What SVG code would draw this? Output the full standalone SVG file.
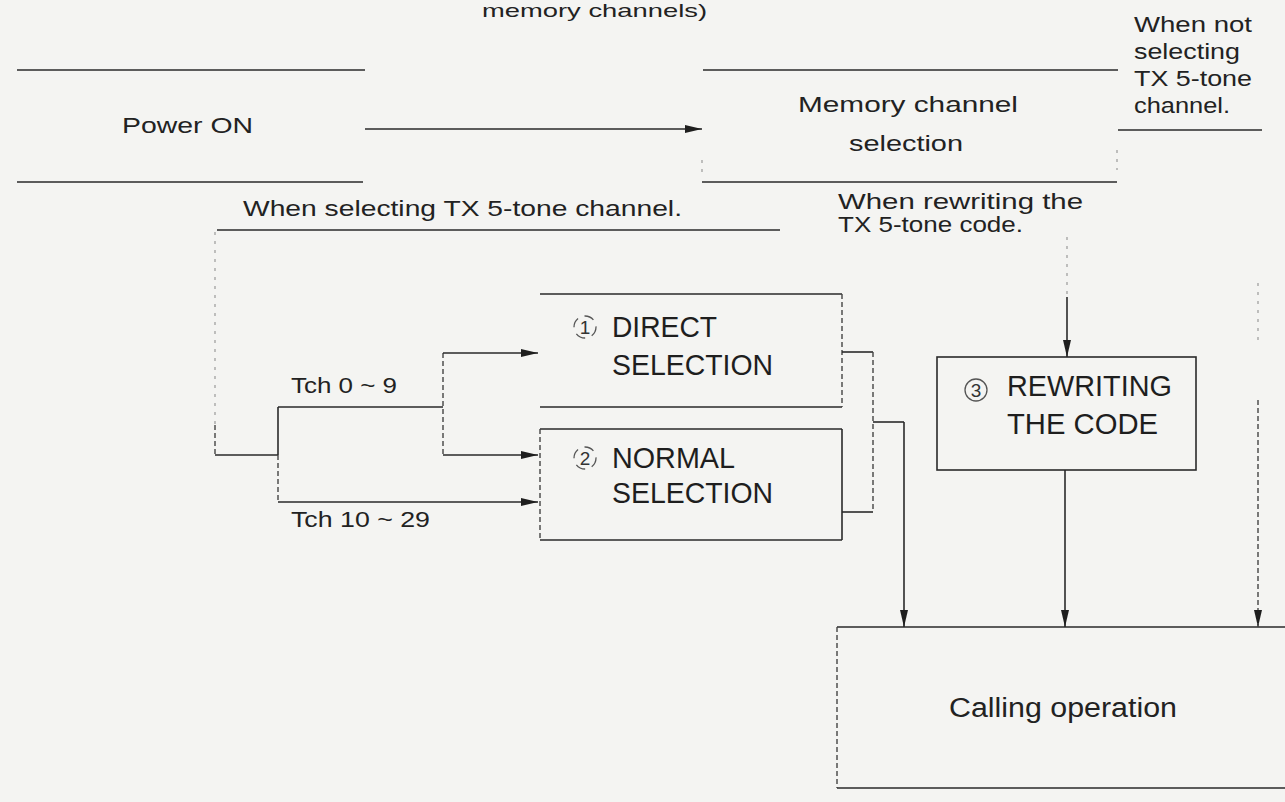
<svg xmlns="http://www.w3.org/2000/svg" width="1285" height="802" viewBox="0 0 1285 802">
<style>
.ln{stroke:#2a2a2a;stroke-width:1.6;fill:none}
.dl{stroke:#444;stroke-width:1.4;fill:none;stroke-dasharray:5 3}
.fd{stroke:#999;stroke-width:1.2;fill:none;stroke-dasharray:3 6}
.lb{font-family:"Liberation Sans",Arial,Helvetica,sans-serif;font-size:22px;fill:#222}
.bg{font-family:"Liberation Sans",Arial,Helvetica,sans-serif;font-size:29px;fill:#1e1e1e}
.cn{font-family:"Liberation Sans",Arial,Helvetica,sans-serif;font-size:19px;fill:#333;text-anchor:middle}
.cc{stroke:#555;stroke-width:1.3;fill:none}
</style>
<defs>
<marker id="ah" markerUnits="userSpaceOnUse" markerWidth="17" markerHeight="8" refX="17" refY="4" orient="auto">
<path d="M0,0 L17,4 L0,8 Z" fill="#1e1e1e"/>
</marker>
</defs>
<rect width="1285" height="802" fill="#f4f4f2"/>

<g id="top-note">
<text class="lb" style="font-size:19px" x="482" y="17" textLength="225" lengthAdjust="spacingAndGlyphs">memory channels)</text>
</g>

<g id="power-on">
<line class="ln" x1="17" y1="70" x2="365" y2="70"/>
<line class="ln" x1="17" y1="182" x2="363" y2="182"/>
<text class="lb" x="122" y="133" textLength="131" lengthAdjust="spacingAndGlyphs">Power ON</text>
</g>

<g id="memory-channel-selection">
<line class="ln" x1="703" y1="70" x2="1118" y2="70"/>
<line class="ln" x1="702" y1="182" x2="1117" y2="182"/>
<line class="fd" x1="702" y1="160" x2="702" y2="176"/>
<line class="fd" x1="1117" y1="150" x2="1117" y2="170"/>
<text class="lb" x="798" y="112" textLength="220" lengthAdjust="spacingAndGlyphs">Memory channel</text>
<text class="lb" x="849" y="151" textLength="114" lengthAdjust="spacingAndGlyphs">selection</text>
</g>

<g id="label-not-selecting">
<text class="lb" x="1134" y="32" textLength="118" lengthAdjust="spacingAndGlyphs">When not</text>
<text class="lb" x="1134" y="59" textLength="106" lengthAdjust="spacingAndGlyphs">selecting</text>
<text class="lb" x="1134" y="86" textLength="118" lengthAdjust="spacingAndGlyphs">TX 5-tone</text>
<text class="lb" x="1134" y="113" textLength="96" lengthAdjust="spacingAndGlyphs">channel.</text>
</g>

<g id="label-selecting">
<text class="lb" x="243" y="216" textLength="439" lengthAdjust="spacingAndGlyphs">When selecting TX 5-tone channel.</text>
</g>

<g id="label-rewriting">
<text class="lb" x="838" y="209" textLength="245" lengthAdjust="spacingAndGlyphs">When rewriting the</text>
<text class="lb" x="838" y="232" textLength="185" lengthAdjust="spacingAndGlyphs">TX 5-tone code.</text>
</g>

<g id="label-tch">
<text class="lb" x="291" y="393" textLength="106" lengthAdjust="spacingAndGlyphs">Tch 0 ~ 9</text>
<text class="lb" x="291" y="527" textLength="139" lengthAdjust="spacingAndGlyphs">Tch 10 ~ 29</text>
</g>

<g id="direct-selection">
<line class="ln" x1="540" y1="294" x2="842" y2="294"/>
<line class="ln" x1="540" y1="407" x2="842" y2="407"/>
<line class="dl" x1="842" y1="294" x2="842" y2="407"/>
<circle class="cc" cx="585" cy="327" r="11" stroke-dasharray="10 7"/>
<text class="cn" x="585" y="334">1</text>
<text class="bg" x="612" y="337" textLength="105" lengthAdjust="spacingAndGlyphs">DIRECT</text>
<text class="bg" x="612" y="375" textLength="161" lengthAdjust="spacingAndGlyphs">SELECTION</text>
</g>

<g id="normal-selection">
<line class="ln" x1="540" y1="429" x2="842" y2="429"/>
<line class="ln" x1="540" y1="540" x2="842" y2="540"/>
<line class="dl" x1="540" y1="429" x2="540" y2="540"/>
<line class="ln" x1="842" y1="429" x2="842" y2="540"/>
<circle class="cc" cx="585" cy="458" r="11" stroke-dasharray="10 7"/>
<text class="cn" x="585" y="465">2</text>
<text class="bg" x="612" y="468" textLength="123" lengthAdjust="spacingAndGlyphs">NORMAL</text>
<text class="bg" x="612" y="503" textLength="161" lengthAdjust="spacingAndGlyphs">SELECTION</text>
</g>

<g id="rewriting-the-code">
<rect class="ln" x="937" y="357" width="259" height="113"/>
<circle class="cc" cx="976" cy="390" r="11"/>
<text class="cn" x="976" y="397">3</text>
<text class="bg" x="1007" y="396" textLength="165" lengthAdjust="spacingAndGlyphs">REWRITING</text>
<text class="bg" x="1007" y="434" textLength="151" lengthAdjust="spacingAndGlyphs">THE CODE</text>
</g>

<g id="calling-operation">
<line class="ln" x1="837" y1="627" x2="1285" y2="627"/>
<line class="ln" x1="837" y1="788" x2="1285" y2="788"/>
<line class="dl" x1="837" y1="627" x2="837" y2="788"/>
<text class="lb" style="font-size:27px" x="949" y="717" textLength="228" lengthAdjust="spacingAndGlyphs">Calling operation</text>
</g>

<g id="connectors">
<line class="ln" x1="365" y1="129" x2="702" y2="129" marker-end="url(#ah)"/>
<line class="ln" x1="217" y1="230" x2="780" y2="230"/>
<line class="fd" x1="215" y1="232" x2="215" y2="425"/>
<line class="dl" x1="215" y1="425" x2="215" y2="455"/>
<line class="ln" x1="215" y1="455" x2="278" y2="455"/>
<line class="ln" x1="278" y1="407" x2="278" y2="455"/>
<line class="dl" x1="278" y1="455" x2="278" y2="502"/>
<line class="ln" x1="278" y1="407" x2="443" y2="407"/>
<line class="dl" x1="443" y1="353" x2="443" y2="455"/>
<line class="ln" x1="443" y1="353" x2="538" y2="353" marker-end="url(#ah)"/>
<line class="ln" x1="443" y1="455" x2="538" y2="455" marker-end="url(#ah)"/>
<line class="ln" x1="278" y1="502" x2="538" y2="502" marker-end="url(#ah)"/>
<line class="ln" x1="842" y1="352" x2="873" y2="352"/>
<line class="ln" x1="842" y1="512" x2="873" y2="512"/>
<line class="dl" x1="873" y1="352" x2="873" y2="512"/>
<line class="ln" x1="873" y1="422" x2="904" y2="422"/>
<line class="ln" x1="904" y1="422" x2="904" y2="627" marker-end="url(#ah)"/>
<line class="fd" x1="1067" y1="237" x2="1067" y2="297"/>
<line class="ln" x1="1067" y1="297" x2="1067" y2="357" marker-end="url(#ah)"/>
<line class="ln" x1="1065" y1="470" x2="1065" y2="627" marker-end="url(#ah)"/>
<line class="ln" x1="1118" y1="130" x2="1262" y2="130"/>
<line class="fd" x1="1258" y1="283" x2="1258" y2="345"/>
<line class="dl" x1="1258" y1="400" x2="1258" y2="627" marker-end="url(#ah)"/>
</g>
</svg>
